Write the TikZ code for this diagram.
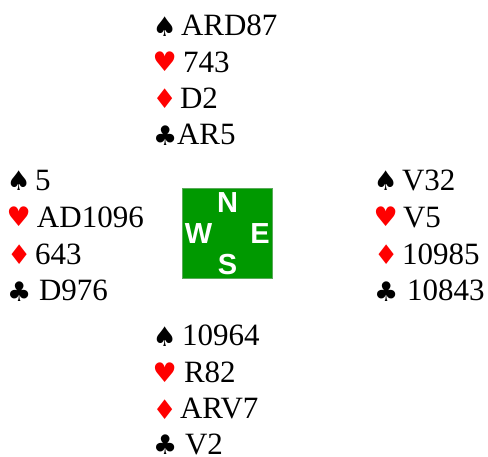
\documentclass[tikz,border=0pt]{standalone}
\usepackage{fontspec}
\setmainfont{Liberation Serif}
\newfontfamily\suitfont{DejaVu Sans}
\newfontfamily\compassfont{Liberation Sans}
\definecolor{cardred}{RGB}{255,0,0}
\definecolor{tablegreen}{RGB}{0,153,0}
\definecolor{tableedge}{RGB}{90,170,90}
\tikzset{
  x=1pt,y=-1pt,
  holding/.style={anchor=base west,inner sep=0pt,outer sep=0pt,text=black,font=\fontsize{31}{36}\selectfont},
  blacksuit/.style={anchor=base west,inner sep=0pt,outer sep=0pt,text=black,font=\fontsize{27}{30}\suitfont},
  redsuit/.style={anchor=base west,inner sep=0pt,outer sep=0pt,text=cardred,font=\fontsize{27}{30}\suitfont},
  compass/.style={anchor=center,inner sep=0pt,outer sep=0pt,text=white,font=\fontsize{29}{30}\compassfont\bfseries},
  tablebox/.style={fill=tablegreen,draw=tableedge,line width=0.7pt,minimum size=90pt,inner sep=0pt}
}
\begin{document}
\begin{tikzpicture}
\useasboundingbox (0,0) rectangle (488,456);
% North
\node[blacksuit] (ns) at (152.5,36) {♠};
\node[holding] (nst) at (181,35) {ARD87};
\node[redsuit] (nh) at (152.5,71) {♥};
\node[holding] (nht) at (183,72) {743};
\node[redsuit] (nd) at (152.5,108) {♦};
\node[holding] (ndt) at (180,108) {D2};
\node[blacksuit] (nc) at (153,145) {♣};
\node[holding] (nct) at (177,144) {AR5};
% West
\node[blacksuit] (ws) at (6.5,190) {♠};
\node[holding] (wst) at (35,190) {5};
\node[redsuit] (wh) at (6.5,226) {♥};
\node[holding] (wht) at (37,227) {AD1096};
\node[redsuit] (wd) at (7,264) {♦};
\node[holding] (wdt) at (35,264) {643};
\node[blacksuit] (wc) at (7,301) {♣};
\node[holding] (wct) at (39,300) {D976};
% East
\node[blacksuit] (es) at (373.5,190) {♠};
\node[holding] (est) at (402,190) {V32};
\node[redsuit] (eh) at (373.5,226) {♥};
\node[holding] (eht) at (403,227) {V5};
\node[redsuit] (ed) at (374,264) {♦};
\node[holding] (edt) at (402,264) {10985};
\node[blacksuit] (ec) at (374,301) {♣};
\node[holding] (ect) at (407,300) {10843};
% South
\node[blacksuit] (ss) at (152.5,346) {♠};
\node[holding] (sst) at (182,345) {10964};
\node[redsuit] (sh) at (152.5,382) {♥};
\node[holding] (sht) at (184,382) {R82};
\node[redsuit] (sd) at (152.5,419) {♦};
\node[holding] (sdt) at (180,418) {ARV7};
\node[blacksuit] (sc) at (153,454) {♣};
\node[holding] (sct) at (185,454) {V2};
% Table
\node[tablebox] (table) at (227,233.5) {};
\node[compass] (cn) at (227.5,203) {N};
\node[compass] (cw) at (198.5,234) {W};
\node[compass] (ce) at (260,233.5) {E};
\node[compass] (cs) at (227.5,264.5) {S};
\end{tikzpicture}
\end{document}
